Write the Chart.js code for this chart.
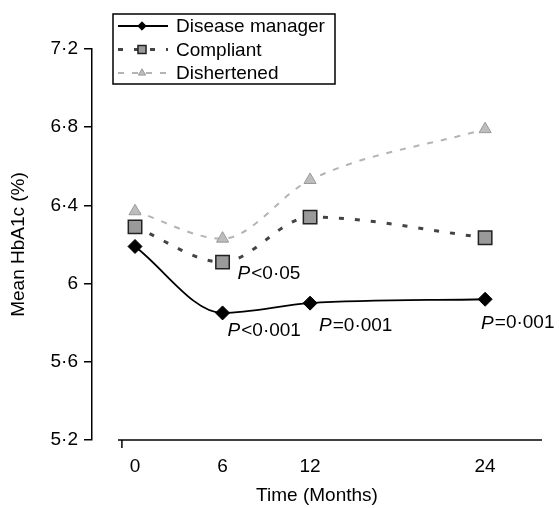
<!DOCTYPE html>
<html>
<head>
<meta charset="utf-8">
<script src="https://cdn.jsdelivr.net/npm/chart.js@4/dist/chart.umd.min.js"></script>
<style>
  html, body { margin: 0; padding: 0; background: #fff; }
  #wrap { width: 559px; height: 508px; position: relative; }
</style>
</head>
<body>
<div id="wrap"><canvas id="c" width="559" height="508"></canvas></div>
<script>
// ---- data ----
const months = [0, 6, 12, 24];
const diseaseManager = [6.19, 5.85, 5.90, 5.92];
const compliant = [6.29, 6.11, 6.34, 6.235];
const dishertened = [6.37, 6.23, 6.53, 6.79];
const seriesNames = ['Disease manager', 'Compliant', 'Dishertened'];
const yTicks = [5.2, 5.6, 6, 6.4, 6.8, 7.2];
const xTicks = [0, 6, 12, 24];
const pLabels = ['P<0·05', 'P<0·001', 'P=0·001', 'P=0·001'];
const pMonths = [6, 6, 12, 24];
const pSeries = [1, 0, 0, 0];
const axisTitles = ['Time (Months)', 'Mean HbA1c (%)'];

const FONT = "'Liberation Sans', Arial, Helvetica, sans-serif";
const toPts = arr => months.map((m, i) => ({ x: m, y: arr[i] }));

// annotation pixel offsets (styling)
const pOffsets = [[15, 12], [5, 18], [9, 23], [-4, 24]];

const annotPlugin = {
  id: 'annot',
  afterDraw(chart) {
    const ctx = chart.ctx;
    const xs = chart.scales.x, ys = chart.scales.y;
    const ca = chart.chartArea;
    ctx.save();
    // x axis line (offset from y axis)
    ctx.strokeStyle = '#000';
    ctx.lineWidth = 1.5;
    ctx.beginPath();
    ctx.moveTo(xs.getPixelForValue(-1.17), ca.bottom);
    ctx.lineTo(ca.right, ca.bottom);
    ctx.stroke();
    ctx.beginPath();
    ctx.moveTo(xs.getPixelForValue(-0.9), ca.bottom);
    ctx.lineTo(xs.getPixelForValue(-0.9), ca.bottom + 8);
    ctx.stroke();

    // P annotations
    ctx.fillStyle = '#000';
    ctx.textBaseline = 'middle';
    ctx.textAlign = 'left';
    pLabels.forEach((lab, i) => {
      const ds = chart.data.datasets[pSeries[i]];
      const idx = months.indexOf(pMonths[i]);
      const px = xs.getPixelForValue(pMonths[i]) + pOffsets[i][0];
      const py = ys.getPixelForValue(ds.data[idx].y) + pOffsets[i][1];
      ctx.font = 'italic 19px ' + FONT;
      ctx.fillText(lab[0], px, py);
      const w = ctx.measureText(lab[0]).width;
      ctx.font = '19px ' + FONT;
      ctx.fillText(lab.slice(1), px + w + 1, py);
    });

    // legend box
    const bx = 113, by = 14, bw = 222, bh = 70;
    ctx.lineWidth = 1.5;
    ctx.strokeStyle = '#000';
    ctx.fillStyle = '#fff';
    ctx.fillRect(bx, by, bw, bh);
    ctx.strokeRect(bx, by, bw, bh);
    chart.data.datasets.forEach((ds, i) => {
      const cy = by + 12 + i * 23.5;
      ctx.save();
      ctx.strokeStyle = ds.borderColor;
      ctx.lineWidth = ds.borderWidth;
      ctx.setLineDash(ds.borderDash || []);
      ctx.beginPath();
      ctx.moveTo(118, cy);
      ctx.lineTo(168, cy);
      ctx.stroke();
      ctx.restore();
      ctx.save();
      ctx.fillStyle = ds.pointBackgroundColor;
      ctx.strokeStyle = ds.pointBorderColor;
      ctx.lineWidth = ds.pointBorderWidth;
      Chart.helpers.drawPoint(ctx, {
        pointStyle: ds.pointStyle, radius: ds.pointRadius * 0.6,
        rotation: 0, borderWidth: ds.pointBorderWidth
      }, 142, cy);
      ctx.restore();
      ctx.fillStyle = '#000';
      ctx.font = '19px ' + FONT;
      ctx.textBaseline = 'middle';
      ctx.fillText(ds.label, 176, cy + 1);
    });
    ctx.restore();
  }
};

new Chart(document.getElementById('c'), {
  type: 'line',
  data: {
    datasets: [
      {
        label: seriesNames[0], data: toPts(diseaseManager),
        borderColor: '#000', borderWidth: 1.8, cubicInterpolationMode: 'monotone',
        pointStyle: 'rectRot', pointRadius: 7, pointBackgroundColor: '#000',
        pointBorderColor: '#000', pointBorderWidth: 1, order: 1
      },
      {
        label: seriesNames[1], data: toPts(compliant),
        borderColor: '#444', borderWidth: 3, borderDash: [5, 11], cubicInterpolationMode: 'monotone',
        pointStyle: 'rect', pointRadius: 9.5, pointBackgroundColor: '#9a9a9a',
        pointBorderColor: '#222', pointBorderWidth: 1.5, order: 2
      },
      {
        label: seriesNames[2], data: toPts(dishertened),
        borderColor: '#b4b4b4', borderWidth: 2, borderDash: [6, 8], cubicInterpolationMode: 'monotone',
        pointStyle: 'triangle', pointRadius: 7, pointBackgroundColor: '#bdbdbd',
        pointBorderColor: '#9a9a9a', pointBorderWidth: 1, order: 3
      }
    ]
  },
  options: {
    responsive: false,
    animation: false,
    devicePixelRatio: 1,
    layout: { padding: { top: 49, right: 17, bottom: 0, left: 0 } },
    plugins: { legend: { display: false }, tooltip: { enabled: false } },
    scales: {
      x: {
        type: 'linear', min: -2.95, max: 27.9,
        afterBuildTicks: s => { s.ticks = xTicks.map(v => ({ value: v })); },
        grid: { display: false, drawTicks: false },
        border: { display: false },
        ticks: { color: '#000', font: { family: FONT, size: 19 }, padding: 15, maxRotation: 0 },
        title: { display: true, text: axisTitles[0], color: '#000',
                 font: { family: FONT, size: 19 }, padding: { top: 0, bottom: 1 } },
        afterFit: s => { s.height = 68; }
      },
      y: {
        min: 5.2, max: 7.2,
        afterBuildTicks: s => { s.ticks = yTicks.map(v => ({ value: v })); },
        grid: { drawOnChartArea: false, drawTicks: true, tickLength: 8, color: '#000', lineWidth: 1.5 },
        border: { display: true, color: '#000', width: 1.5 },
        ticks: { color: '#000', font: { family: FONT, size: 19 }, padding: 6,
                 callback: v => String(Math.round(v * 10) / 10).replace('.', '·') },
        title: { display: true, text: axisTitles[1], color: '#000',
                 font: { family: FONT, size: 19 }, padding: { top: 7, bottom: 0 } },
        afterFit: s => { s.width = 92; }
      }
    }
  },
  plugins: [annotPlugin]
});
</script>
</body>
</html>
